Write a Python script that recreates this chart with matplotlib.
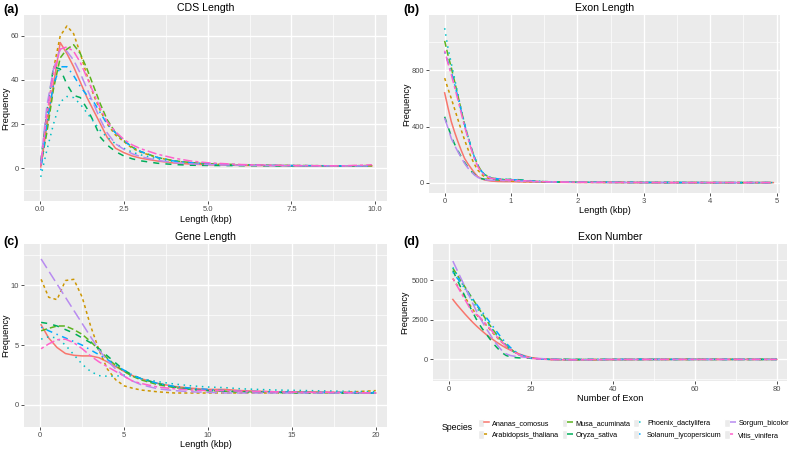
import numpy as np
import matplotlib
matplotlib.use('Agg')
import matplotlib.pyplot as plt
from matplotlib.patches import Rectangle
from matplotlib.legend_handler import HandlerTuple

plt.rcParams['font.family'] = ['Liberation Sans', 'DejaVu Sans']

### 0. Inputs
species = ['Ananas_comosus', 'Arabidopsis_thaliana', 'Musa_acuminata', 'Oryza_sativa',
           'Phoenix_dactylifera', 'Solanum_lycopersicum', 'Sorgum_bicolor', 'Vitis_vinifera']
colors = ['#F8766D', '#CD9600', '#5BB31E', '#00AD5A', '#00BFC4', '#00A9FF', '#B88BF0', '#FF61CC']
dashes = [None, (2, 2), (4, 2), (4, 4), (1, 3), (1, 3, 4, 3), (7, 3), (2, 2, 6, 2)]

# (a) CDS length
xa = [0.02, 0.2, 0.4, 0.6, 0.8, 1.0, 1.2, 1.4, 1.6, 1.8, 2.0, 2.25, 2.5, 2.75, 3.0, 3.5,
      4.0, 4.5, 5.0, 6.0, 7.0, 8.0, 9.0, 9.9]
cds = {
    'Ananas_comosus':       [0.5, 19, 38, 57, 52, 46, 39, 32, 26, 20, 14, 9, 7, 5.5, 4.5, 3.2, 2.3, 1.8, 1.5, 1.2, 1.1, 1.0, 1.0, 1.0],
    'Arabidopsis_thaliana': [1, 22, 45, 60, 64.5, 61, 52, 42, 33, 26, 20, 15, 12, 9, 7.2, 4.8, 3.2, 2.4, 1.9, 1.4, 1.2, 1.1, 1.0, 1.2],
    'Musa_acuminata':       [1, 16, 36, 50, 54, 56, 52, 45, 37, 29, 22, 16, 12.5, 9.5, 7.5, 4.8, 3.3, 2.5, 2.0, 1.5, 1.2, 1.1, 1.0, 1.0],
    'Oryza_sativa':         [3, 25, 46, 45, 38, 33, 32, 27, 21, 14, 10.5, 7.5, 5.5, 4.2, 3.3, 2.2, 1.6, 1.3, 1.2, 1.1, 1.0, 1.0, 1.0, 1.0],
    'Phoenix_dactylifera':  [-4, 8, 20, 30, 32.5, 32, 29, 25, 21, 17, 14, 11, 9, 7.2, 6, 4.2, 3.0, 2.3, 1.9, 1.4, 1.2, 1.1, 1.0, 1.0],
    'Solanum_lycopersicum': [-1, 20, 38, 46, 46, 42, 37, 33, 30, 25, 20, 16, 12.5, 9.5, 7.5, 4.8, 3.2, 2.4, 1.9, 1.4, 1.2, 1.1, 1.0, 1.0],
    'Sorgum_bicolor':       [2, 28, 45, 54, 53, 49, 43, 36, 29, 22, 16, 11, 8.5, 6.5, 5.2, 3.5, 2.5, 1.9, 1.6, 1.3, 1.1, 1.0, 1.0, 1.0],
    'Vitis_vinifera':       [1, 24, 43, 54, 55, 53, 48, 41, 34, 27, 21, 16.5, 13, 10.5, 8.8, 6.3, 4.5, 3.2, 2.4, 1.6, 1.3, 1.1, 1.0, 1.5],
}

# (b) Exon length
xb = [0.0, 0.05, 0.1, 0.15, 0.2, 0.25, 0.3, 0.35, 0.4, 0.45, 0.5, 0.55, 0.6, 0.7, 0.8, 0.9,
      1.0, 1.1, 1.2, 1.35, 1.5, 1.75, 2.0, 2.5, 3.0, 3.5, 4.0, 4.5, 4.95]
exon_len = {
    'Ananas_comosus':       [640, 535, 435, 360, 292, 230, 173, 135, 102, 70, 43, 30, 20, 12, 9, 8, 8, 7, 6, 5, 4, 3, 2, 2, 1, 1, 1, 1, 1],
    'Arabidopsis_thaliana': [745, 670, 600, 525, 450, 375, 305, 240, 180, 130, 90, 62, 42, 25, 18, 14, 12, 10, 8, 6, 5, 4, 3, 2, 1, 1, 1, 1, 1],
    'Musa_acuminata':       [1010, 910, 820, 720, 620, 515, 415, 330, 250, 180, 125, 85, 58, 35, 26, 22, 20, 18, 14, 10, 7, 5, 4, 3, 2, 2, 1, 1, 1],
    'Oryza_sativa':         [470, 400, 330, 275, 228, 185, 145, 110, 82, 58, 40, 30, 25, 22, 20, 22, 25, 22, 18, 12, 8, 5, 4, 3, 2, 1, 1, 1, 1],
    'Phoenix_dactylifera':  [1100, 960, 850, 740, 630, 520, 420, 330, 250, 180, 125, 85, 58, 35, 26, 22, 20, 18, 15, 10, 7, 5, 4, 3, 2, 2, 1, 1, 1],
    'Solanum_lycopersicum': [930, 860, 790, 700, 610, 510, 415, 330, 250, 180, 125, 85, 58, 35, 28, 25, 22, 20, 16, 11, 8, 5, 4, 3, 2, 2, 1, 1, 1],
    'Sorgum_bicolor':       [460, 390, 316, 265, 221, 178, 138, 105, 78, 55, 38, 28, 22, 18, 16, 15, 14, 12, 10, 8, 6, 4, 3, 2, 1, 1, 1, 1, 1],
    'Vitis_vinifera':       [940, 850, 770, 680, 590, 495, 400, 320, 240, 170, 115, 78, 52, 32, 25, 22, 20, 17, 14, 10, 7, 5, 4, 3, 2, 1, 1, 1, 1],
}

# (c) Gene length
xc = [0.05, 0.5, 1.0, 1.5, 2.0, 2.5, 3.0, 3.5, 4.0, 4.5, 5.0, 5.5, 6.0, 7.0, 8.0, 9.0,
      10, 11, 12, 14, 16, 18, 20]
gene_len = {
    'Ananas_comosus':       [6.7, 5.6, 4.8, 4.3, 4.15, 4.1, 4.1, 3.95, 3.6, 3.2, 2.8, 2.45, 2.2, 1.8, 1.55, 1.4, 1.3, 1.3, 1.2, 1.1, 1.1, 1.05, 1.0],
    'Arabidopsis_thaliana': [10.5, 9.0, 8.8, 10.4, 10.5, 9.0, 6.6, 4.6, 3.0, 2.1, 1.6, 1.4, 1.25, 1.1, 1.0, 1.0, 1.0, 1.0, 1.0, 1.0, 1.0, 1.05, 1.2],
    'Musa_acuminata':       [6.2, 6.4, 6.6, 6.6, 6.3, 5.9, 5.3, 4.6, 3.9, 3.3, 2.8, 2.4, 2.1, 1.7, 1.45, 1.3, 1.2, 1.15, 1.1, 1.05, 1.05, 1.0, 1.0],
    'Oryza_sativa':         [6.9, 6.8, 6.6, 6.3, 6.0, 5.6, 5.2, 4.7, 4.1, 3.5, 2.9, 2.5, 2.2, 1.8, 1.5, 1.3, 1.2, 1.15, 1.1, 1.05, 1.0, 1.0, 1.0],
    'Phoenix_dactylifera':  [5.5, 5.7, 5.6, 5.0, 4.2, 3.4, 2.8, 2.45, 2.4, 2.4, 2.5, 2.4, 2.2, 1.95, 1.75, 1.6, 1.5, 1.45, 1.35, 1.25, 1.2, 1.15, 1.1],
    'Solanum_lycopersicum': [6.5, 6.2, 5.9, 5.6, 5.3, 5.0, 4.6, 4.2, 3.8, 3.3, 2.9, 2.5, 2.2, 1.8, 1.55, 1.4, 1.3, 1.2, 1.15, 1.1, 1.05, 1.05, 1.0],
    'Sorgum_bicolor':       [12.2, 11.2, 10.1, 9.0, 7.9, 6.8, 5.7, 4.6, 3.7, 3.0, 2.4, 2.0, 1.7, 1.35, 1.2, 1.1, 1.05, 1.0, 1.0, 1.0, 1.0, 1.0, 1.0],
    'Vitis_vinifera':       [4.7, 5.1, 5.45, 5.5, 5.2, 4.7, 4.1, 3.6, 3.2, 2.8, 2.4, 2.0, 1.8, 1.5, 1.35, 1.25, 1.2, 1.2, 1.15, 1.1, 1.05, 1.05, 1.0],
}

# (d) Exon number
xd = [1, 2, 3, 4, 5, 6, 7, 8, 9, 10, 11, 12, 13, 14, 15, 16, 17, 18, 19, 20, 22, 25, 30,
      35, 40, 50, 60, 70, 80]
exon_num = {
    'Ananas_comosus':       [3780, 3450, 3150, 2850, 2570, 2300, 2050, 1820, 1600, 1400, 1210, 1030, 870, 720, 590, 470, 360, 270, 190, 120, 40, -10, -30, -25, -15, -5, 0, 0, 0],
    'Arabidopsis_thaliana': [5100, 4700, 4300, 3900, 3500, 3100, 2750, 2500, 2200, 1900, 1600, 1320, 1070, 850, 650, 480, 340, 230, 150, 90, 30, 0, -10, -10, -5, 0, 0, 0, 0],
    'Musa_acuminata':       [5750, 5350, 4950, 4550, 4150, 3750, 3350, 2950, 2550, 2170, 1800, 1470, 1170, 900, 670, 480, 330, 220, 140, 90, 30, 0, -10, -10, -5, 0, 0, 0, 0],
    'Oryza_sativa':         [5600, 5050, 4500, 3950, 3400, 2900, 2400, 2000, 1650, 1300, 960, 680, 420, 250, 160, 120, 100, 90, 80, 70, 40, 10, 0, 0, 0, 0, 0, 0, 0],
    'Phoenix_dactylifera':  [5800, 5350, 4900, 4450, 4000, 3600, 3200, 2800, 2450, 2100, 1750, 1430, 1130, 870, 640, 450, 300, 190, 120, 70, 20, 0, -10, -5, 0, 0, 0, 0, 0],
    'Solanum_lycopersicum': [5500, 5150, 4800, 4450, 4100, 3750, 3400, 3050, 2700, 2350, 2000, 1650, 1320, 1020, 760, 540, 370, 240, 150, 90, 30, 0, -10, -5, 0, 0, 0, 0, 0],
    'Sorgum_bicolor':       [6200, 5650, 5100, 4550, 4000, 3450, 2900, 2450, 2000, 1600, 1200, 850, 550, 350, 250, 200, 170, 150, 130, 110, 60, 10, -20, -20, -10, 0, 0, 0, 0],
    'Vitis_vinifera':       [5100, 4650, 4200, 3750, 3300, 2900, 2800, 2550, 2250, 1950, 1650, 1350, 1080, 840, 630, 460, 320, 210, 130, 80, 20, -10, -20, -10, 0, 0, 0, 0, 0],
}

### 1. Panels
# label, title, xlabel, x, data, xlim, ylim, xmajor, xminor, ymajor, yminor,
# axes rect, xticklabels, label pos, ylabel x, xlabel y
panels = [
    ('(a)', 'CDS Length', 'Length (kbp)', xa, cds, (-0.48, 10.35), (-15, 69.5),
     [0, 2.5, 5, 7.5, 10], [1.25, 3.75, 6.25, 8.75], [0, 20, 40, 60], [-10, 10, 30, 50],
     [0.0302, 0.557, 0.4566, 0.410], ['0.0', '2.5', '5.0', '7.5', '10.0'],
     (0.004, 0.979), -0.05, -0.097),
    ('(b)', 'Exon Length', 'Length (kbp)', xb, exon_len, (-0.236, 5.05), (-73, 1194),
     [0, 1, 2, 3, 4, 5], [0.5, 1.5, 2.5, 3.5, 4.5], [0, 400, 800], [200, 600, 1000],
     [0.5396, 0.5749, 0.4415, 0.392], None,
     (0.508, 0.979), -0.062, -0.098),
    ('(c)', 'Gene Length', 'Length (kbp)', xc, gene_len, (-0.97, 20.67), (-1.84, 13.45),
     [0, 5, 10, 15, 20], [2.5, 7.5, 12.5, 17.5], [0, 5, 10], [2.5, 7.5, 12.5],
     [0.0302, 0.0595, 0.4566, 0.403], None,
     (0.004, 0.468), -0.05, -0.098),
    ('(d)', 'Exon Number', 'Number of Exon', xd, exon_num, (-3.83, 82.5), (-1361, 7277),
     [0, 20, 40, 60, 80], [10, 30, 50, 70], [0, 2500, 5000], [-1250, 1250, 3750, 6250],
     [0.5447, 0.1608, 0.4453, 0.3018], None,
     (0.508, 0.468), -0.08, -0.131),
]

### 2. Plots
fig = plt.figure(figsize=(7.95, 4.54), dpi=100)
handles = []
for (lab, title, xlab, xx, data, xl, yl, xmaj, xmin, ymaj, ymin, rect, xtl,
     lpos, ylx, xly) in panels:
    ax = fig.add_axes(rect)
    ax.set_facecolor('#EBEBEB')
    for s in ax.spines.values():
        s.set_visible(False)
    for v in xmin:
        ax.axvline(v, color='white', lw=0.5, zorder=0)
    for v in ymin:
        ax.axhline(v, color='white', lw=0.5, zorder=0)
    for v in xmaj:
        ax.axvline(v, color='white', lw=1.0, zorder=0)
    for v in ymaj:
        ax.axhline(v, color='white', lw=1.0, zorder=0)
    lines = []
    for sp, c, d in zip(species, colors, dashes):
        ln, = ax.plot(xx, data[sp], color=c, lw=1.1, zorder=2)
        if d is not None:
            ln.set_dashes(d)
        lines.append(ln)
    handles = lines
    ax.set_xlim(xl)
    ax.set_ylim(yl)
    ax.set_xticks(xmaj)
    if xtl:
        ax.set_xticklabels(xtl)
    ax.set_yticks(ymaj)
    ax.tick_params(length=2.5, width=0.6, color='#333333', labelcolor='#4D4D4D',
                   labelsize=5.5, pad=1)
    ax.set_xlabel(xlab, fontsize=6.6)
    ax.set_ylabel('Frequency', fontsize=6.6)
    ax.xaxis.set_label_coords(0.5, xly)
    ax.yaxis.set_label_coords(ylx, 0.5)
    ax.xaxis.label.set_va('center')
    ax.yaxis.label.set_va('center')
    ax.set_title(title, fontsize=7.6, pad=3)
    fig.text(lpos[0], lpos[1], lab, fontsize=9, fontweight='bold', va='center', ha='left')

# legend below panel (d)
keys = [(Rectangle((0, 0), 1, 1, facecolor='#EBEBEB', edgecolor='white'), h) for h in handles]
leg = fig.legend(keys, species, ncol=4, loc='center left', bbox_to_anchor=(0.601, 0.0555),
                 frameon=False, fontsize=5.2, handlelength=1.6, handleheight=1.5,
                 handletextpad=0.35, columnspacing=0.35, labelspacing=0.4,
                 borderpad=0.0, borderaxespad=0.0,
                 handler_map={tuple: HandlerTuple(ndivide=None, pad=0)})
fig.text(0.5556, 0.0575, 'Species', fontsize=6.3, va='center', ha='left')

plt.savefig('out.png', dpi=100)
